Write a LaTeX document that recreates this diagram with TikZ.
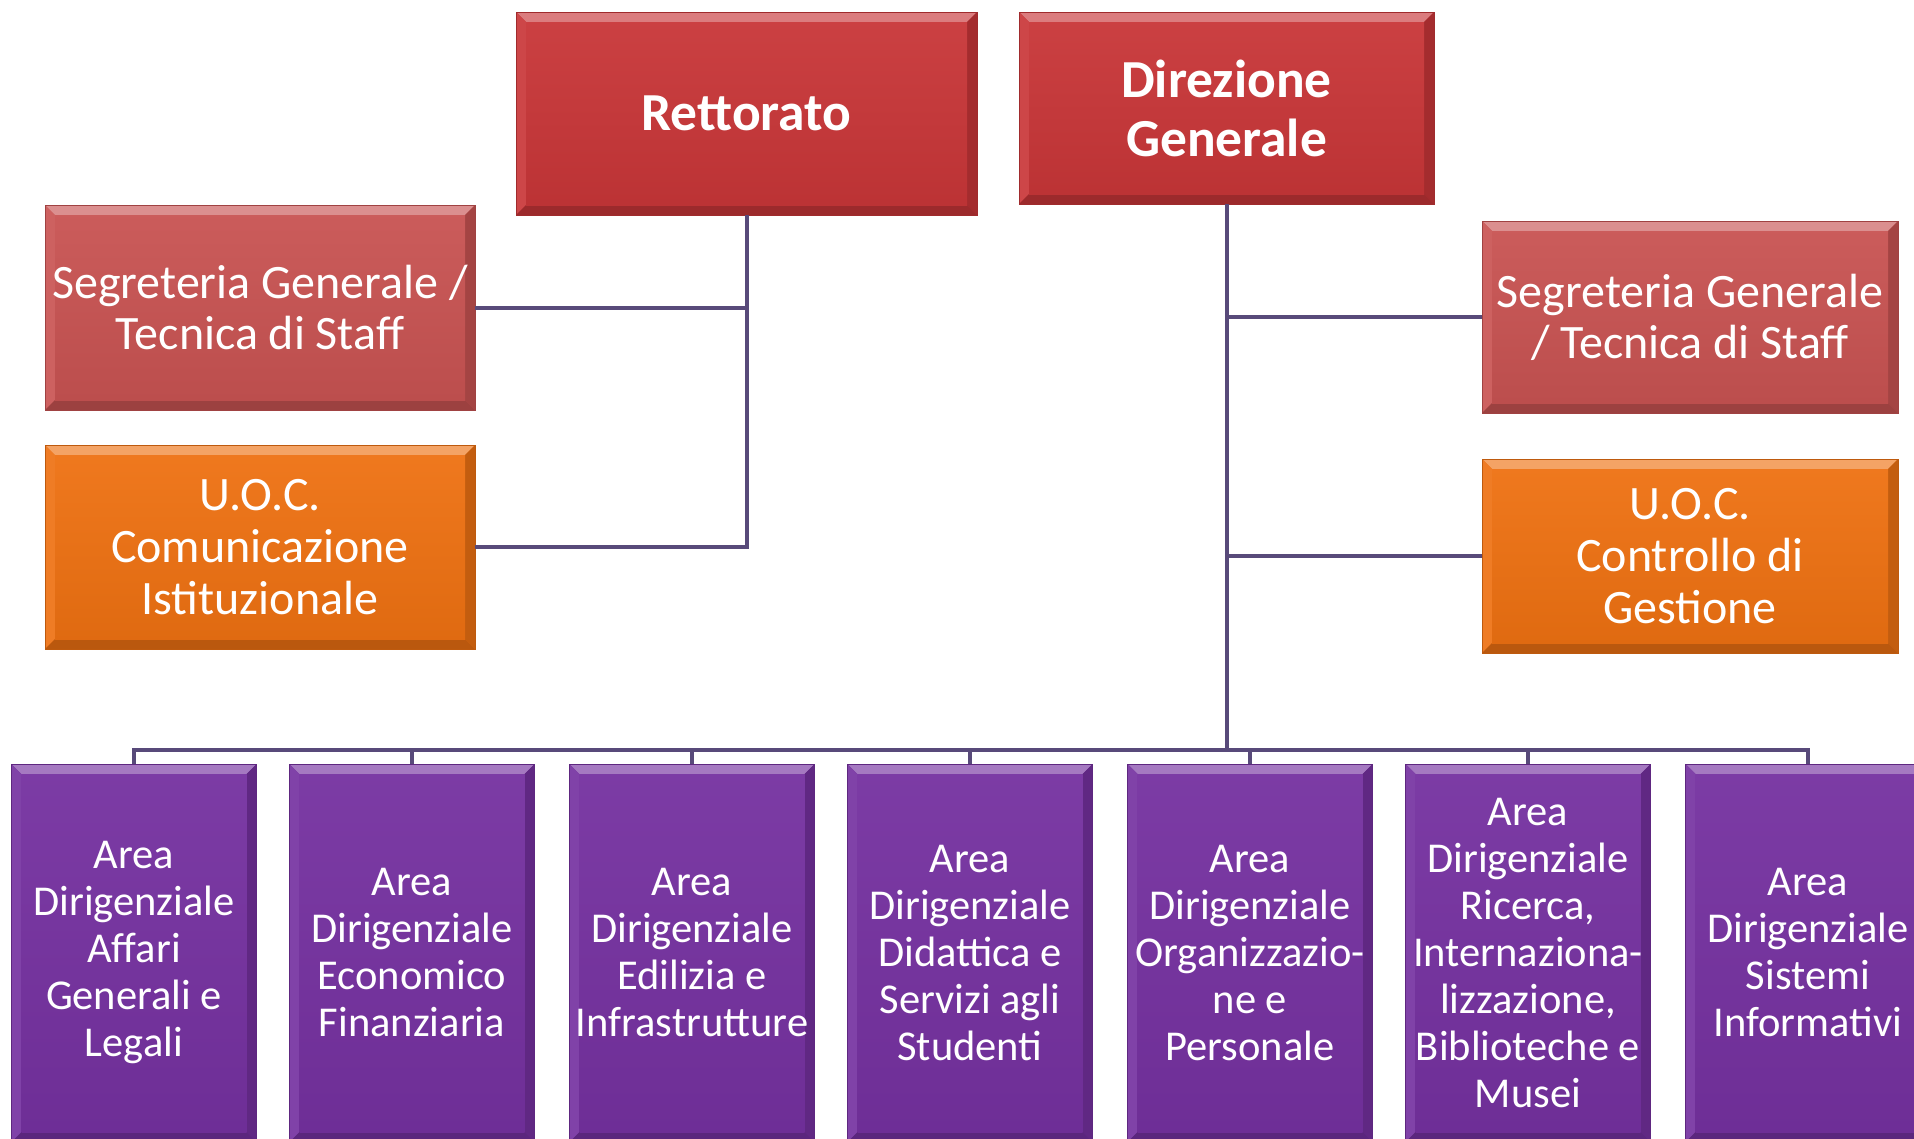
\documentclass[tikz,border=0pt]{standalone}
\usepackage{fontspec}
\setmainfont{Carlito}
\usetikzlibrary{calc}
\definecolor{cRed}{RGB}{200,54,56}
\definecolor{cSeg}{RGB}{200,83,82}
\definecolor{cOra}{RGB}{238,113,18}
\definecolor{cPur}{RGB}{117,49,160}
\definecolor{cLine}{RGB}{88,74,122}
\tikzset{
  bev/.style={rectangle, inner sep=0pt, outer sep=0pt, draw=#1!80!black, line width=0.8pt,
    fill=#1, text=white, align=center,
    path picture={
      \coordinate (pNW) at (path picture bounding box.north west);
      \coordinate (pNE) at (path picture bounding box.north east);
      \coordinate (pSW) at (path picture bounding box.south west);
      \coordinate (pSE) at (path picture bounding box.south east);
      \fill[#1!65!white] (pNW) -- (pNE) -- ($(pNE)+(-10pt,-10pt)$) -- ($(pNW)+(10pt,-10pt)$) -- cycle;
      \fill[#1!92!white] (pNW) -- (pSW) -- ($(pSW)+(10pt,10pt)$) -- ($(pNW)+(10pt,-10pt)$) -- cycle;
      \fill[#1!82!black] (pNE) -- (pSE) -- ($(pSE)+(-10pt,10pt)$) -- ($(pNE)+(-10pt,-10pt)$) -- cycle;
      \fill[#1!78!black] (pSW) -- (pSE) -- ($(pSE)+(-10pt,10pt)$) -- ($(pSW)+(10pt,10pt)$) -- cycle;
      \shade[top color=#1!95!white, bottom color=#1!94!black] ($(pNW)+(10pt,-10pt)$) rectangle ($(pSE)+(-10pt,10pt)$);
    }},
  topbox/.style={bev=cRed, font=\fontsize{53.5}{59}\selectfont\bfseries},
  segbox/.style={bev=cSeg, font=\fontsize{48}{51}\selectfont},
  orabox/.style={bev=cOra, font=\fontsize{48}{52}\selectfont},
  areabox/.style={bev=cPur, font=\fontsize{42.5}{47}\selectfont, minimum width=245pt, minimum height=378pt},
  conn/.style={draw=cLine, line width=4pt}
}
\begin{document}
\begin{tikzpicture}[x=1pt,y=-1pt]
\path[use as bounding box] (0,0) rectangle (1914,1138);
\clip (0,0) rectangle (1914,1138);
\fill[white] (0,0) rectangle (1914,1138);

% top boxes
\node[topbox, minimum width=461pt, minimum height=203pt] (rett) at (746.5,113.5) {Rettorato};
\node[topbox, minimum width=415pt, minimum height=192pt] (dir) at (1226.5,108) {Direzione\\Generale};

% left staff
\node[segbox, minimum width=430pt, minimum height=205pt] (segL) at (260,307.5) {Segreteria Generale /\\Tecnica di Staff};
\node[orabox, minimum width=430pt, minimum height=204pt] (uocL) at (260,547) {U.O.C.\\Comunicazione\\Istituzionale};

% right staff
\node[segbox, minimum width=416pt, minimum height=192pt] (segR) at (1690,317) {Segreteria Generale\\/ Tecnica di Staff};
\node[orabox, minimum width=416pt, minimum height=194pt] (uocR) at (1690,556) {U.O.C.\\Controllo di\\Gestione};

% areas
\node[areabox] (a1) at (134,953) {Area\\Dirigenziale\\Affari\\Generali e\\Legali};
\node[areabox] (a2) at (412,953) {Area\\Dirigenziale\\Economico\\Finanziaria};
\node[areabox] (a3) at (692,953) {Area\\Dirigenziale\\Edilizia e\\Infrastrutture};
\node[areabox] (a4) at (970,953) {Area\\Dirigenziale\\Didattica e\\Servizi agli\\Studenti};
\node[areabox] (a5) at (1250,953) {Area\\Dirigenziale\\Organizzazio-\\ne e\\Personale};
\node[areabox] (a6) at (1528,953) {Area\\Dirigenziale\\Ricerca,\\Internaziona-\\lizzazione,\\Biblioteche e\\Musei};
\node[areabox] (a7) at (1808,953) {Area\\Dirigenziale\\Sistemi\\Informativi};

\coordinate (bus) at (0,750);

% connectors
\draw[conn] (rett.south) |- (segL.east);
\draw[conn] (rett.south) |- (uocL.east);
\draw[conn] (dir.south) |- (segR.west);
\draw[conn] (dir.south) |- (uocR.west);
\foreach \n in {a1,a2,a3,a4,a5,a6,a7}{
  \draw[conn] (dir.south) |- (bus -| \n.north) -- (\n.north);
}
\end{tikzpicture}
\end{document}
